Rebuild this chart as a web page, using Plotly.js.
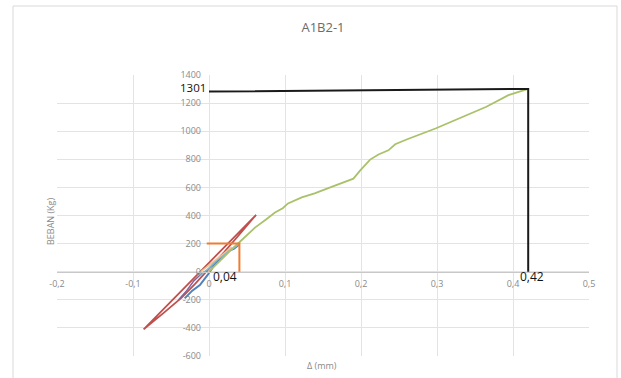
<!DOCTYPE html>
<html>
<head>
<meta charset="utf-8">
<script src="https://cdn.plot.ly/plotly-3.0.1.min.js"></script>
<style>
  html, body { margin: 0; padding: 0; background: #fff; }
  #chart { width: 621px; height: 378px; }
</style>
</head>
<body>
<div id="chart"></div>
<script>
// Load–deflection curve of specimen A1B2-1
const mainDefl = [0, 0.01, 0.02, 0.03, 0.041, 0.05, 0.0605, 0.075, 0.0868, 0.097, 0.104, 0.122, 0.139, 0.163, 0.19, 0.199, 0.212, 0.223, 0.236, 0.245, 0.26, 0.298, 0.33, 0.365, 0.394, 0.42];
const mainLoad = [0, 55, 110, 160, 215, 258, 314, 372, 421, 452, 486, 529, 557, 607, 662, 721, 798, 834, 864, 907, 941, 1019, 1091, 1174, 1257, 1301];

// Early loading / unloading cycles
const cycleRedDefl = [0.062, 0.03, 0.0, -0.03, -0.06, -0.086, -0.06, -0.036, -0.018, 0.0, 0.02, 0.04, 0.062];
const cycleRedLoad = [405, 230, 65, -100, -265, -410, -295, -185, -85, 20, 140, 265, 405];

const cycleBlueDefl = [-0.032, -0.022, -0.012, -0.002, 0.006, 0.015, 0.025, 0.033, 0.039];
const cycleBlueLoad = [-190, -135, -95, -25, 40, 95, 145, 165, 190];

const cycleTealDefl = [-0.012, 0.0, 0.01, 0.02, 0.03, 0.04];
const cycleTealLoad = [-30, 25, 80, 120, 160, 200];

const cyclePurpleDefl = [-0.04, -0.03, -0.02, -0.01, -0.003];
const cyclePurpleLoad = [-200, -140, -65, -15, 10];

const cycleTanDefl = [-0.012, 0.0, 0.01, 0.02, 0.03];
const cycleTanLoad = [-5, 45, 90, 130, 175];

// Yield reading (orange) and ultimate reading (black)
const yieldDefl = [-0.003, 0.04, 0.04];
const yieldLoad = [200, 200, 0];
const ultDefl = [0, 0.42, 0.42];
const ultLoad = [1282, 1301, 0];

// Axis ticks
const xTickVals = [-0.2, -0.1, 0, 0.1, 0.2, 0.3, 0.4, 0.5];
const xTickText = ['-0,2', '-0,1', '0', '0,1', '0,2', '0,3', '0,4', '0,5'];
const yTickVals = [-600, -400, -200, 0, 200, 400, 600, 800, 1000, 1200, 1400];
const yTickText = ['-600', '-400', '-200', '0', '200', '400', '600', '800', '1000', '1200', '1400'];

const xRange = [-0.2, 0.5];
const yRange = [-600, 1400];

function line(x, y, color, width) {
  return { x: x, y: y, type: 'scatter', mode: 'lines', line: { color: color, width: width }, hoverinfo: 'skip' };
}

const traces = [
  line(cycleRedDefl, cycleRedLoad, '#C0504D', 1.8),
  line(cyclePurpleDefl, cyclePurpleLoad, '#8064A2', 1.5),
  line(cycleBlueDefl, cycleBlueLoad, '#4F81BD', 2),
  line(cycleTealDefl, cycleTealLoad, '#7FB8CF', 1.5),
  line(cycleTanDefl, cycleTanLoad, '#F2C08A', 1.5),
  line(mainDefl, mainLoad, '#A9C26A', 1.8),
  line(yieldDefl, yieldLoad, '#ED7D31', 2),
  line(ultDefl, ultLoad, '#1a1a1a', 2)
];

const tickFont = { family: 'Open Sans, sans-serif', size: 9, color: '#8a8a8a' };
const xZero = (0 - xRange[0]) / (xRange[1] - xRange[0]);
const yZero = (0 - yRange[0]) / (yRange[1] - yRange[0]);

const layout = {
  width: 621,
  height: 378,
  margin: { l: 57, r: 32, t: 75, b: 22 },
  paper_bgcolor: '#ffffff',
  plot_bgcolor: '#ffffff',
  showlegend: false,
  title: {
    text: 'A1B2-1',
    font: { family: 'Open Sans, sans-serif', size: 13, color: '#6b6b6b' },
    x: 0.5, xref: 'paper', xanchor: 'center',
    y: 1 - 27 / 378, yref: 'container', yanchor: 'middle'
  },
  xaxis: {
    range: xRange,
    tickvals: xTickVals,
    ticktext: xTickText,
    tickfont: tickFont,
    showgrid: true,
    gridcolor: '#e3e3e3',
    gridwidth: 1,
    zeroline: false,
    showline: true,
    linecolor: '#c8c8c8',
    linewidth: 1,
    anchor: 'free',
    position: yZero,
    ticks: '',
    ticklabelstandoff: 3,
    fixedrange: true
  },
  yaxis: {
    range: yRange,
    tickvals: yTickVals,
    ticktext: yTickText,
    tickfont: tickFont,
    showgrid: true,
    gridcolor: '#e3e3e3',
    gridwidth: 1,
    zeroline: false,
    showline: false,
    anchor: 'free',
    position: xZero,
    ticks: '',
    ticklabelstandoff: 8,
    fixedrange: true
  },
  shapes: [
    // chart frame
    {
      type: 'rect', xref: 'paper', yref: 'paper',
      x0: (13 - 57) / 532, x1: (617 - 57) / 532,
      y0: -0.12, y1: (356 - 6) / 281,
      line: { color: '#d9d9d9', width: 1 }, fillcolor: 'rgba(0,0,0,0)', layer: 'below'
    }
  ],
  annotations: [
    { text: 'BEBAN (Kg)', xref: 'paper', yref: 'paper', x: (50 - 57) / 532, y: (356 - 222) / 281,
      xanchor: 'center', yanchor: 'middle', textangle: -90, showarrow: false,
      font: { family: 'Open Sans, sans-serif', size: 9, color: '#8a8a8a' } },
    { text: 'Δ (mm)', xref: 'paper', yref: 'paper', x: (322 - 57) / 532, y: (356 - 365) / 281,
      xanchor: 'center', yanchor: 'middle', showarrow: false,
      font: { family: 'Open Sans, sans-serif', size: 9, color: '#8a8a8a' } },
    { text: '1301', xref: 'x', yref: 'y', x: ultDefl[0], y: ultLoad[1],
      xanchor: 'right', yanchor: 'middle', xshift: -1, yshift: 1, showarrow: false,
      font: { family: 'Open Sans, sans-serif', size: 11.5, color: '#111111' } },
    { text: '0,42', xref: 'x', yref: 'y', x: ultDefl[1], y: 0,
      xanchor: 'center', yanchor: 'middle', xshift: 4, yshift: -5, showarrow: false,
      font: { family: 'Open Sans, sans-serif', size: 12, color: '#111111' } },
    { text: '0,04', xref: 'x', yref: 'y', x: yieldDefl[1], y: 0,
      xanchor: 'center', yanchor: 'middle', xshift: -14, yshift: -5, showarrow: false,
      font: { family: 'Open Sans, sans-serif', size: 12, color: '#111111' } }
  ]
};

Plotly.newPlot('chart', traces, layout, { staticPlot: true, displayModeBar: false });
</script>
</body>
</html>
